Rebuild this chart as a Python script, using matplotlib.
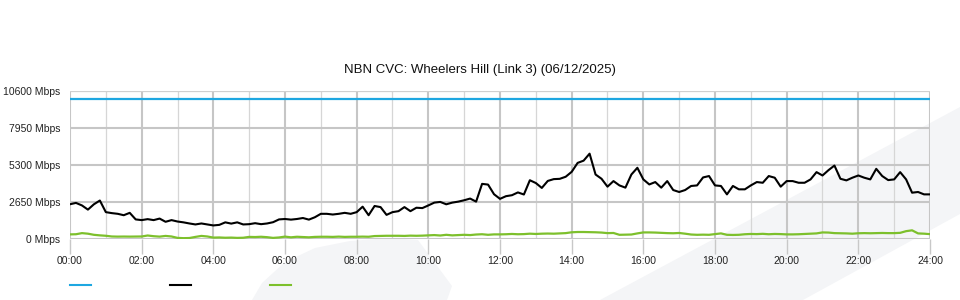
import numpy as np
import matplotlib
matplotlib.use("Agg")
import matplotlib.pyplot as plt
from matplotlib.lines import Line2D
from matplotlib.patches import Polygon
from matplotlib.ticker import MultipleLocator

plt.rcParams['font.family'] = ['Liberation Sans', 'DejaVu Sans']

# Traffic data, 10-minute samples from 00:00 to 24:00 (Mbps)
capacity = 10000

traffic_in = [
    2485, 2580, 2400, 2100, 2480, 2750,
    1920, 1850, 1800, 1700, 1870, 1400,
    1350, 1420, 1350, 1460, 1230, 1350,
    1250, 1190, 1110, 1040, 1110, 1040,
    970, 1010, 1190, 1100, 1190, 1040,
    1060, 1130, 1060, 1110, 1200, 1400,
    1430, 1385, 1430, 1500, 1385, 1555,
    1800, 1800, 1750, 1800, 1870, 1800,
    1920, 2310, 1700, 2360, 2280, 1725,
    1920, 1990, 2280, 1990, 2235, 2210,
    2400, 2600, 2650, 2480, 2600, 2670,
    2770, 2890, 2670, 3940, 3890, 3200,
    2870, 3060, 3130, 3330, 3180, 4200,
    4000, 3650, 4150, 4280, 4300, 4450,
    4800, 5440, 5600, 6100, 4610, 4305,
    3740, 4140, 3830, 3670, 4610, 5090,
    4260, 3900, 4070, 3670, 4140, 3500,
    3360, 3500, 3790, 3830, 4400, 4500,
    3830, 3790, 3190, 3790, 3550, 3550,
    3830, 4070, 4020, 4500, 4380, 3740,
    4140, 4140, 4020, 4020, 4260, 4780,
    4540, 4920, 5250, 4305, 4190, 4380,
    4540, 4380, 4260, 5015, 4500, 4210,
    4260, 4780, 4260, 3310, 3360, 3190,
    3190,
]

traffic_out = [
    330, 340, 420, 380, 300, 260,
    230, 180, 170, 175, 170, 175,
    180, 250, 200, 170, 220, 180,
    80, 60, 70, 150, 220, 180,
    100, 110, 90, 100, 80, 90,
    150, 140, 160, 130, 80, 110,
    170, 120, 160, 140, 120, 150,
    160, 160, 150, 170, 150, 160,
    160, 170, 160, 210, 220, 230,
    230, 230, 220, 240, 230, 240,
    260, 280, 250, 300, 260, 280,
    300, 280, 320, 340, 300, 330,
    330, 340, 360, 340, 350, 380,
    360, 380, 390, 380, 400, 420,
    480, 500, 500, 490, 480, 460,
    420, 430, 300, 310, 320, 400,
    470, 470, 460, 440, 420, 410,
    430, 380, 320, 300, 310, 300,
    350, 400, 300, 290, 300, 340,
    360, 350, 370, 340, 360, 350,
    330, 330, 340, 360, 380, 400,
    470, 460, 420, 410, 400, 380,
    410, 420, 410, 420, 430, 420,
    420, 440, 560, 620, 400, 380,
    350,
]

y_ticks = [0, 2650, 5300, 7950, 10600]
x_ticks = list(range(0, 25, 2))
x_labels = ['%02d:00' % h for h in x_ticks]

hours = np.linspace(0, 24, len(traffic_in))

W, H = 960, 300
fig = plt.figure(figsize=(9.6, 3.0), dpi=100)


def px(x, y):
    """ pixel (from top-left) to figure fraction """
    return (x / W, 1 - y / H)


# faint background watermark, kept behind the axes
band = Polygon([px(600, 300), px(803, 300), px(960, 214), px(960, 107)],
               closed=True, transform=fig.transFigure, facecolor='#f4f5f7',
               edgecolor='none', zorder=-5)
blob = Polygon([px(252, 300), px(262, 283), px(285, 262), px(315, 248),
                px(350, 241), px(390, 238), px(418, 240), px(452, 286),
                px(447, 300)],
               closed=True, transform=fig.transFigure, facecolor='#f4f5f7',
               edgecolor='none', zorder=-5)
fig.add_artist(band)
fig.add_artist(blob)

ax = fig.add_axes([70 / W, 1 - 239 / H, 860 / W, (239 - 90.7) / H])
ax.patch.set_alpha(0)
ax.set_zorder(1)

ax.plot([0, 24], [capacity, capacity], color='#1ea7e1', lw=1.6, zorder=3)
ax.plot(hours, traffic_in, color='black', lw=1.5, zorder=4)
ax.plot(hours, traffic_out, color='#7dc02c', lw=1.6, zorder=3)

ax.set_xlim(0, 24)
ax.set_ylim(0, 10600)

ax.set_yticks(y_ticks)
ax.set_yticklabels(['%d Mbps' % v for v in y_ticks])
ax.set_xticks(x_ticks)
ax.set_xticklabels(x_labels)
ax.xaxis.set_minor_locator(MultipleLocator(1))

for s in ax.spines.values():
    s.set_visible(False)

ax.tick_params(axis='y', length=0, pad=7, labelsize=7.5, labelcolor='#222222')
ax.tick_params(axis='x', which='major', length=11, width=1, color='#c8c8c8',
               pad=1.5, labelsize=7.5, labelcolor='#222222')
ax.tick_params(axis='x', which='minor', length=0)

ax.grid(axis='y', which='major', color='#c6c6c6', lw=1.5, zorder=1)
ax.grid(axis='x', which='major', color='#c6c6c6', lw=1.5, zorder=1)
ax.grid(axis='x', which='minor', color='#d6d6d6', lw=0.9, zorder=1)
ax.set_axisbelow(True)
ax.get_ygridlines()[-1].set_linewidth(0.9)
ax.get_ygridlines()[-1].set_color('#d0d0d0')

fig.text(0.5, 1 - 70 / H, 'NBN CVC: Wheelers Hill (Link 3) (06/12/2025)',
         ha='center', va='center', fontsize=9.5, color='#111111')

# legend swatches (labels are blank in the original)
for x0, col in [(70, '#1ea7e1'), (170, 'black'), (270, '#7dc02c')]:
    fig.add_artist(Line2D([x0 / W, (x0 + 21) / W], [1 - 285 / H] * 2,
                          transform=fig.transFigure, color=col, lw=1.5))

fig.savefig('out.png', dpi=100)
